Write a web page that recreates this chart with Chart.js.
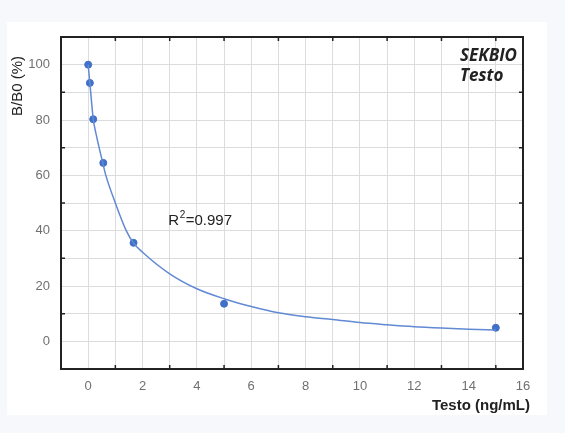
<!DOCTYPE html>
<html>
<head>
<meta charset="utf-8">
<script src="https://cdn.jsdelivr.net/npm/chart.js@4.4.1/dist/chart.umd.min.js"></script>
<style>
  html, body { margin: 0; padding: 0; background: #f7f8fc; }
  #card { position: absolute; left: 7px; top: 22px; width: 540px; height: 393px; background: #fff; }
  #wrap { position: absolute; left: 0; top: 0; width: 565px; height: 433px; }
</style>
</head>
<body>
<div id="card"></div>
<div id="wrap"><canvas id="chart" width="565" height="433"></canvas></div>
<script>
// standard points (ng/mL, B/B0 %)
const stdConc = [0, 0.062, 0.185, 0.556, 1.67, 5, 15];
const stdBB0 = [100, 93.4, 80.3, 64.5, 35.6, 13.6, 4.9];

// fitted curve
const fitConc = [0, 0.062, 0.185, 0.3, 0.53, 0.65, 1, 1.4, 1.67, 2, 3, 4, 5, 6, 7, 8, 9, 10, 11, 12, 13, 14, 15];
const fitBB0 = [100, 93.4, 80.5, 74.5, 64.8, 60, 50, 40, 35.5, 32.2, 24.4, 19, 15.4, 12.6, 10.3, 8.9, 7.9, 6.8, 6.0, 5.3, 4.8, 4.4, 4.1];

const xTickLabels = [0, 2, 4, 6, 8, 10, 12, 14, 16];
const yTickLabels = [0, 20, 40, 60, 80, 100];

const toXY = (xs, ys) => xs.map((x, i) => ({ x: x, y: ys[i] }));

// frame, minor ticks and texts
const decor = {
  id: 'decor',
  afterDraw(chart) {
    const ctx = chart.ctx;
    const a = chart.chartArea;
    const xs = chart.scales.x, ys = chart.scales.y;
    ctx.save();
    ctx.strokeStyle = '#222';
    ctx.lineWidth = 1.5;
    ctx.beginPath();
    for (let v = -1; v <= 16; v++) {
      if (xTickLabels.includes(v)) continue;
      const px = xs.getPixelForValue(v);
      ctx.moveTo(px, a.bottom); ctx.lineTo(px, a.bottom - 4);
      ctx.moveTo(px, a.top); ctx.lineTo(px, a.top + 4);
    }
    for (let v = -10; v <= 110; v += 10) {
      if (yTickLabels.includes(v) || v === -10 || v === 110) continue;
      const py = ys.getPixelForValue(v);
      ctx.moveTo(a.left, py); ctx.lineTo(a.left + 4, py);
      ctx.moveTo(a.right, py); ctx.lineTo(a.right - 4, py);
    }
    ctx.stroke();
    ctx.lineWidth = 2;
    ctx.strokeRect(a.left, a.top, a.right - a.left, a.bottom - a.top);

    ctx.fillStyle = '#222';
    // y title
    ctx.save();
    ctx.translate(18, 86);
    ctx.rotate(-Math.PI / 2);
    ctx.font = '15px "Liberation Sans"';
    ctx.textAlign = 'center';
    ctx.textBaseline = 'middle';
    ctx.fillText('B/B0 (%)', 0, 0);
    ctx.restore();
    // x title
    ctx.font = 'bold 15px "Liberation Sans"';
    ctx.textAlign = 'right';
    ctx.textBaseline = 'middle';
    ctx.fillText('Testo (ng/mL)', a.right + 7, 406);
    // R squared
    const rx = xs.getPixelForValue(2.95), ry = ys.getPixelForValue(42);
    ctx.textAlign = 'left';
    ctx.textBaseline = 'alphabetic';
    ctx.font = '15px "Liberation Sans"';
    ctx.fillText('R', rx, ry);
    let w = ctx.measureText('R').width;
    ctx.font = '10px "Liberation Sans"';
    ctx.fillText('2', rx + w + 0.5, ry - 7);
    w += ctx.measureText('2').width + 1;
    ctx.font = '15px "Liberation Sans"';
    ctx.fillText('=0.997', rx + w, ry);
    // brand
    ctx.font = 'italic bold 17px "Open Sans"';
    ctx.fillText('SEKBIO', a.right - 63, a.top + 23.5);
    ctx.fillText('Testo', a.right - 63, a.top + 44);
    ctx.restore();
  }
};

new Chart(document.getElementById('chart'), {
  type: 'scatter',
  data: {
    datasets: [{
      data: toXY(fitConc, fitBB0),
      showLine: true,
      borderColor: '#6289d4',
      borderWidth: 1.5,
      pointRadius: 0,
      cubicInterpolationMode: 'monotone'
    }, {
      data: toXY(stdConc, stdBB0),
      backgroundColor: '#4170c8',
      borderColor: '#4170c8',
      pointRadius: 3.5
    }]
  },
  options: {
    responsive: false,
    animation: false,
    layout: { padding: { top: 37, right: 42, bottom: 0, left: 0 } },
    plugins: { legend: { display: false }, tooltip: { enabled: false } },
    scales: {
      x: {
        type: 'linear',
        min: -1, max: 16,
        afterFit(s) { s.height = 64; },
        grid: { color: '#dcdcdc', lineWidth: 1, drawTicks: false },
        border: { display: false },
        ticks: {
          stepSize: 1, padding: 10, color: '#707070', maxRotation: 0, autoSkip: false,
          font: { family: 'Liberation Sans', size: 13 },
          callback: v => xTickLabels.includes(v) ? String(v) : ''
        }
      },
      y: {
        type: 'linear',
        min: -10, max: 110,
        afterFit(s) { s.width = 61; },
        grid: { color: '#dcdcdc', lineWidth: 1, drawTicks: false },
        border: { display: false },
        ticks: {
          stepSize: 10, padding: 11, color: '#707070', autoSkip: false,
          font: { family: 'Liberation Sans', size: 13 },
          callback: v => yTickLabels.includes(v) ? String(v) : ''
        }
      }
    }
  },
  plugins: [decor]
});
</script>
</body>
</html>
